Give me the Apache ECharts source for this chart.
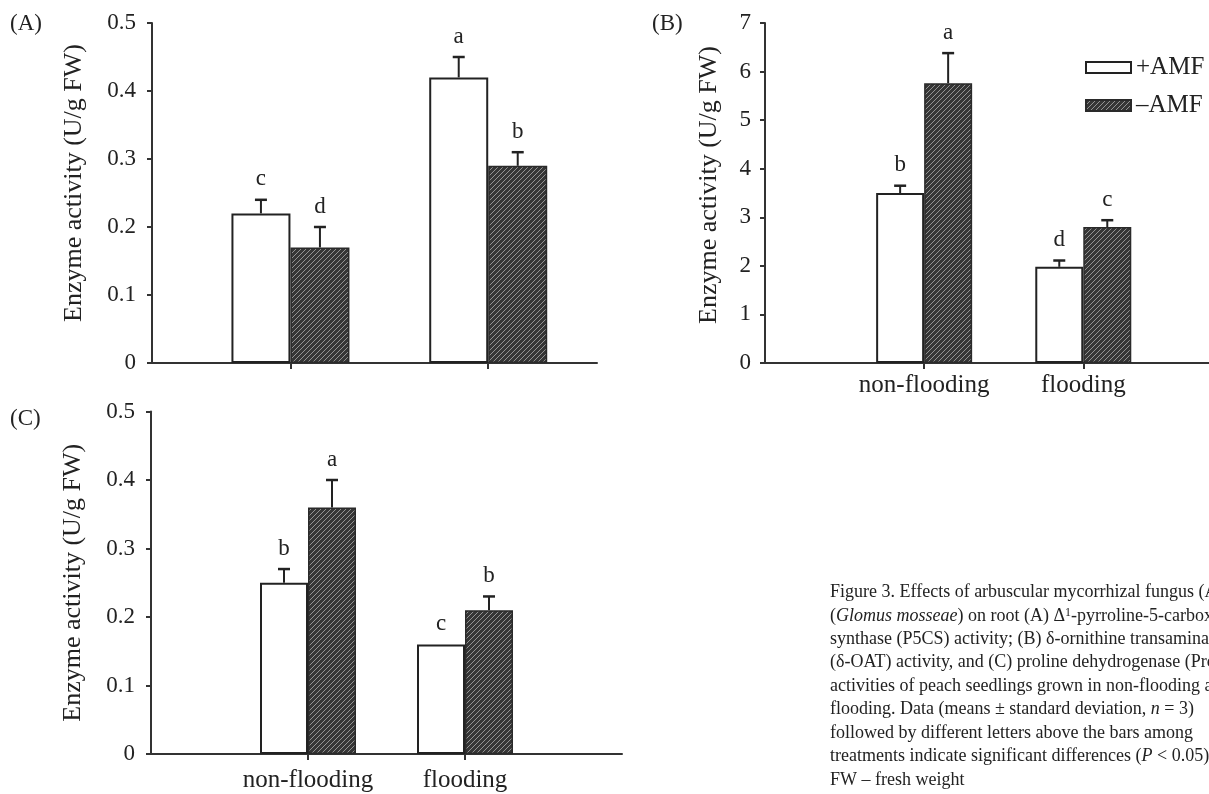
<!DOCTYPE html>
<html>
<head>
<meta charset="utf-8">
<script src="https://cdn.jsdelivr.net/npm/echarts@6/dist/echarts.min.js"></script>
<style>
html,body{margin:0;padding:0;background:#fff;}
#chart{width:1209px;height:794px;}
</style>
</head>
<body>
<div id="chart"></div>
<script>
// ---------- data ----------
const categories = ['non-flooding', 'flooding'];
const seriesNames = ['+AMF', '\u2013AMF'];

// Panel A (P5CS)
const aPlus = [0.22, 0.42];
const aPlusErr = [0.02, 0.03];
const aPlusLetters = ['c', 'a'];
const aMinus = [0.17, 0.29];
const aMinusErr = [0.03, 0.02];
const aMinusLetters = ['d', 'b'];

// Panel B (δ-OAT)
const bPlus = [3.5, 1.98];
const bPlusErr = [0.15, 0.13];
const bPlusLetters = ['b', 'd'];
const bMinus = [5.76, 2.8];
const bMinusErr = [0.62, 0.14];
const bMinusLetters = ['a', 'c'];

// Panel C (ProDH)
const cPlus = [0.25, 0.16];
const cPlusErr = [0.02, 0];
const cPlusLetters = ['b', 'c'];
const cMinus = [0.36, 0.21];
const cMinusErr = [0.04, 0.02];
const cMinusLetters = ['a', 'b'];

const captionLines = [
  'Figure 3. Effects of arbuscular mycorrhizal fungus (AMF)',
  '({i|Glomus mosseae}) on root (A) \u0394{sup|1}-pyrroline-5-carboxylate',
  'synthase (P5CS) activity; (B) \u03b4-ornithine transaminase',
  '(\u03b4-OAT) activity, and (C) proline dehydrogenase (ProDH)',
  'activities of peach seedlings grown in non-flooding and',
  'flooding. Data (means \u00b1 standard deviation, {i|n} = 3)',
  'followed by different letters above the bars among',
  'treatments indicate significant differences ({i|P} < 0.05)',
  'FW \u2013 fresh weight'
];

// ---------- styles ----------
const FONT = '"Liberation Serif", "Times New Roman", serif';
const INK = '#222';

function hatch() {
  const c = document.createElement('canvas');
  c.width = 5; c.height = 5;
  const g = c.getContext('2d');
  g.fillStyle = '#363636';
  g.fillRect(0, 0, 5, 5);
  g.strokeStyle = '#939393';
  g.lineWidth = 1;
  g.beginPath();
  g.moveTo(-1, 6); g.lineTo(6, -1);
  g.moveTo(-1, 1); g.lineTo(1, -1);
  g.moveTo(4, 6); g.lineTo(6, 4);
  g.stroke();
  return c;
}
const hatchFill = { image: hatch(), repeat: 'repeat' };

const panels = [
  { plus: aPlus, plusErr: aPlusErr, plusL: aPlusLetters, minus: aMinus, minusErr: aMinusErr, minusL: aMinusLetters,
    grid: { left: 152, top: 23, width: 445, height: 340 }, xmin: -0.7, xmax: 1.55, ymax: 0.5, yint: 0.1,
    barW: 59, showX: false, nameGap: 65, namePad: [0, 0, 0, 20], labelMargin: 16, xMargin: 10 },
  { plus: bPlus, plusErr: bPlusErr, plusL: bPlusLetters, minus: bMinus, minusErr: bMinusErr, minusL: bMinusLetters,
    grid: { left: 765, top: 23, width: 444, height: 340 }, xmin: -1, xmax: 1.79, ymax: 7, yint: 1,
    barW: 48, showX: true, nameGap: 43, namePad: [0, 0, 0, 16], labelMargin: 14, xMargin: 10 },
  { plus: cPlus, plusErr: cPlusErr, plusL: cPlusLetters, minus: cMinus, minusErr: cMinusErr, minusL: cMinusLetters,
    grid: { left: 151, top: 411.5, width: 471, height: 342.5 }, xmin: -1, xmax: 2, ymax: 0.5, yint: 0.1,
    barW: 48, showX: true, nameGap: 65, namePad: [0, 0, 0, 0], labelMargin: 16, xMargin: 14 }
];

const grids = [], xAxes = [], yAxes = [], series = [];

panels.forEach((p, k) => {
  grids.push(p.grid);
  xAxes.push({
    type: 'value', gridIndex: k, min: p.xmin, max: p.xmax,
    splitLine: { show: false },
    axisLine: { show: true, onZero: false, lineStyle: { color: '#333', width: 2 } },
    axisTick: { show: true, customValues: [0, 1], length: 6, inside: false, lineStyle: { color: '#333', width: 2 } },
    axisLabel: { show: p.showX, customValues: [0, 1], margin: p.xMargin,
      formatter: v => categories[Math.round(v)] || '',
      fontFamily: FONT, fontSize: 25, color: INK }
  });
  yAxes.push({
    type: 'value', gridIndex: k, min: 0, max: p.ymax, interval: p.yint,
    splitLine: { show: false },
    axisLine: { show: true, onZero: false, lineStyle: { color: '#333', width: 2 } },
    axisTick: { show: true, length: 5, lineStyle: { color: '#333', width: 2 } },
    axisLabel: { margin: p.labelMargin, fontFamily: FONT, fontSize: 23, color: INK,
      formatter: v => (v === 0 ? '0' : String(+v.toFixed(1))) },
    name: 'Enzyme activity (U/g FW)', nameLocation: 'middle', nameGap: p.nameGap,
    nameTextStyle: { fontFamily: FONT, fontSize: 26, color: INK, padding: p.namePad }
  });

  const groups = [
    { name: seriesNames[0], vals: p.plus, err: p.plusErr, letters: p.plusL, offset: -p.barW / 2,
      style: { color: '#fff', borderColor: INK, borderWidth: 2 } },
    { name: seriesNames[1], vals: p.minus, err: p.minusErr, letters: p.minusL, offset: p.barW / 2,
      style: { color: hatchFill, borderColor: '#2a2a2a', borderWidth: 1.5 } }
  ];
  groups.forEach(gr => {
    series.push({
      type: 'bar', name: gr.name, xAxisIndex: k, yAxisIndex: k,
      barWidth: p.barW, barGap: '0%',
      data: gr.vals.map((v, i) => [i, v]),
      itemStyle: gr.style, emphasis: { disabled: true }, z: 2
    });
    series.push({
      type: 'custom', name: gr.name + '_err', xAxisIndex: k, yAxisIndex: k, z: 3,
      silent: true,
      data: gr.vals.map((v, i) => [i, v, gr.err[i]]),
      renderItem: (params, api) => {
        const x = api.value(0), y = api.value(1), e = api.value(2);
        const base = api.coord([x, y]);
        const top = api.coord([x, y + e]);
        const cx = base[0] + gr.offset;
        const children = [];
        if (e > 0) {
          children.push({ type: 'line', shape: { x1: cx, y1: base[1], x2: cx, y2: top[1] },
            style: { stroke: INK, lineWidth: 2 } });
          children.push({ type: 'line', shape: { x1: cx - 6, y1: top[1], x2: cx + 6, y2: top[1] },
            style: { stroke: INK, lineWidth: 2.5 } });
        }
        children.push({ type: 'text', style: { text: gr.letters[params.dataIndex], x: cx, y: top[1] - 9,
          align: 'center', verticalAlign: 'bottom', font: '23px ' + FONT, fill: INK } });
        return { type: 'group', children };
      }
    });
  });
});

const graphics = [
  { type: 'text', left: 10, top: 12, style: { text: '(A)', font: '23px ' + FONT, fill: INK } },
  { type: 'text', left: 652, top: 12, style: { text: '(B)', font: '23px ' + FONT, fill: INK } },
  { type: 'text', left: 10, top: 407, style: { text: '(C)', font: '23px ' + FONT, fill: INK } }
];
captionLines.forEach((t, i) => {
  graphics.push({ type: 'text', left: 830, top: 583 + i * 23.5,
    style: { text: t, font: '18px ' + FONT, fill: INK,
      rich: { i: { fontStyle: 'italic', fontFamily: FONT, fontSize: 18 },
              sup: { fontSize: 12, fontFamily: FONT, verticalAlign: 'top', padding: [0, 0, 8, 0] } } } });
});

const chart = echarts.init(document.getElementById('chart'), null, { renderer: 'canvas' });
chart.setOption({
  backgroundColor: '#fff',
  animation: false,
  grid: grids,
  xAxis: xAxes,
  yAxis: yAxes,
  legend: {
    data: seriesNames, orient: 'vertical', left: 1080, top: 50, itemWidth: 45, itemHeight: 11, itemGap: 13,
    icon: 'rect', selectedMode: false,
    textStyle: { fontFamily: FONT, fontSize: 25, color: INK }
  },
  series: series,
  graphic: graphics
});
</script>
</body>
</html>
